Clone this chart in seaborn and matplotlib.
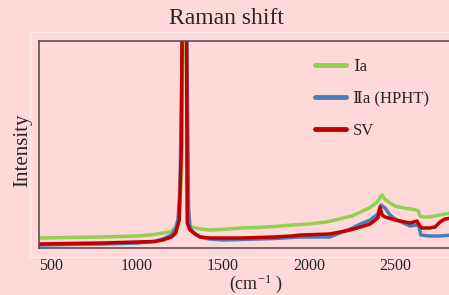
import pandas as pd
import matplotlib
matplotlib.use('Agg')
import matplotlib.pyplot as plt
from matplotlib.patches import Rectangle
from matplotlib.font_manager import FontProperties
import seaborn as sns

# --- Data ---
# Raman shift in cm-1, intensity in arbitrary units (axis has no labels)
WN_IA = [430, 600, 800, 1000, 1100, 1150, 1200, 1225, 1245, 1260, 1268, 1276,
         1284, 1292, 1305, 1320, 1340, 1370, 1420, 1500, 1600, 1700, 1800,
         1900, 2000, 2100, 2200, 2250, 2300, 2350, 2390, 2405, 2415, 2425,
         2440, 2470, 2500, 2550, 2590, 2625, 2635, 2645, 2660, 2700, 2730,
         2760, 2790, 2830]
INT_IA = [10, 10.5, 11, 12, 13.5, 15, 16.5, 21, 30, 80, 250, 600,
          250, 40, 22, 21, 20, 19, 18, 18.5, 20, 20.5, 21.5,
          23, 24, 26, 30, 32, 36, 40, 45, 48, 51, 53,
          49, 45, 42, 40, 39, 38, 37, 32, 31, 31, 32,
          33, 34, 35]

WN_IIA = [430, 600, 800, 1000, 1100, 1150, 1200, 1225, 1238, 1250, 1262, 1276,
          1290, 1300, 1308, 1320, 1340, 1370, 1420, 1500, 1600, 1700, 1800,
          1900, 1950, 2120, 2240, 2300, 2355, 2400, 2418, 2442, 2471, 2500,
          2587, 2628, 2640, 2650, 2700, 2760, 2830]
INT_IIA = [3, 3.5, 4, 5, 6.5, 9, 13, 20, 28, 60, 200, 600,
           200, 40, 21, 17, 14, 11, 9, 8, 8.5, 9, 9.5,
           10.5, 11, 11, 19, 24, 28, 34, 43, 40, 33, 29,
           22, 23, 21, 13, 12, 12, 13]

WN_SV = [430, 600, 800, 1000, 1100, 1150, 1200, 1225, 1245, 1258, 1268, 1276,
         1284, 1292, 1308, 1337, 1366, 1424, 1500, 1600, 1700, 1800, 1900,
         1950, 2120, 2240, 2300, 2355, 2400, 2413, 2425, 2442, 2500, 2587,
         2628, 2645, 2657, 2700, 2733, 2762, 2790, 2830]
INT_SV = [4, 4.5, 5, 6, 6.5, 8, 11, 15, 28, 100, 400, 600,
          400, 25, 18, 14, 11, 10, 10, 10, 10.5, 11, 12,
          13, 14, 18, 21, 24, 30, 41, 33, 31, 28, 25,
          27, 22, 20, 20, 21, 26, 29, 30]

LABELS = ['Ⅰa', 'Ⅱa (HPHT)', 'SV']
COLORS = ['#92D050', '#4A7EBB', '#C00000']

TICKS = [500, 1000, 1500, 2000, 2500]

# --- Figure setup ---
W, H = 449, 295
BG = '#FFD9D9'

sns.set_theme(style='white')
plt.rcParams['font.family'] = ['Liberation Serif', 'DejaVu Serif', 'Noto Sans CJK JP']
plt.rcParams['mathtext.fontset'] = 'stix'

frames = []
for wn, inten, lab in zip([WN_IA, WN_IIA, WN_SV], [INT_IA, INT_IIA, INT_SV], LABELS):
    frames.append(pd.DataFrame({'wn': wn, 'intensity': inten, 'sample': lab}))
df = pd.concat(frames, ignore_index=True)

fig = plt.figure(figsize=(W / 100, H / 100), dpi=100, facecolor=BG)

# light plot-area border like the spreadsheet chart
fig.patches.append(Rectangle((30 / W, 1 - 257 / H), 440 / W, 225 / H,
                             transform=fig.transFigure, fill=False,
                             edgecolor='#FFEAEA', linewidth=1.0))

# axes spans px 39..470 horizontally, 41..248 vertically
ax = fig.add_axes([39 / W, 1 - 248 / H, 431 / W, 207 / H])
ax.set_facecolor(BG)

sns.lineplot(data=df, x='wn', y='intensity', hue='sample', hue_order=LABELS,
             palette=COLORS, linewidth=2.5, sort=True, estimator=None,
             legend=False, ax=ax)

ax.set_xlim(430, 2936)
ax.set_ylim(0, 207)
ax.set_xticks(TICKS)
ax.set_xticklabels([str(t) for t in TICKS], fontsize=11.5)
ax.set_yticks([])
ax.tick_params(axis='x', length=0, pad=7)
ax.set_xlabel('')
ax.set_ylabel('')
for side in ['top', 'left', 'bottom', 'right']:
    ax.spines[side].set_color('#5E4E4E')
    ax.spines[side].set_linewidth(1.2)

# legend
leg_font = FontProperties(family=['Liberation Serif', 'DejaVu Serif', 'Noto Sans CJK JP'],
                          size=12)
ax.legend(ax.lines[:3], LABELS, prop=leg_font, frameon=False,
          loc='upper left', bbox_to_anchor=(315 / W, 1 - 59 / H),
          bbox_transform=fig.transFigure, borderpad=0, borderaxespad=0,
          handlelength=1.86, handletextpad=0.4, labelspacing=0.95)
for line in ax.get_legend().get_lines():
    line.set_linewidth(3.5)

# titles
fig.text(226 / W, 1 - 18 / H, 'Raman shift', ha='center', va='center', fontsize=17)
fig.text(23 / W, 1 - 150 / H, 'Intensity', ha='center', va='center',
         rotation=90, fontsize=15)
fig.text(256 / W, 1 - 289 / H, r'(cm$^{\mathregular{-1}}$ )', ha='center',
         va='baseline', fontsize=13)

fig.savefig('out.png', dpi=100, facecolor=BG)
